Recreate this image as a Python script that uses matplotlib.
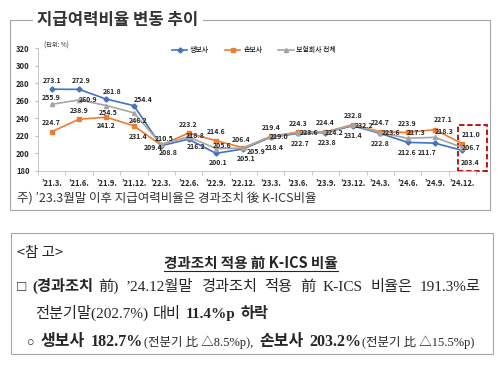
import matplotlib
matplotlib.use("Agg")
import matplotlib.pyplot as plt
import numpy as np
from matplotlib.patches import Rectangle
from matplotlib.lines import Line2D

W, H = 500, 372

QUARTERS = ["’21.3.", "’21.6.", "’21.9.", "’21.12.", "’22.3.", "’22.6.", "’22.9.", "’22.12.",
            "’23.3.", "’23.6.", "’23.9.", "’23.12.", "’24.3.", "’24.6.", "’24.9.", "’24.12."]
LIFE = [273.1, 272.9, 261.8, 254.4, 208.8, 216.2, 200.1, 205.1,
        218.4, 222.7, 223.8, 231.4, 222.8, 212.6, 211.7, 203.4]
NONLIFE = [224.7, 238.9, 241.2, 231.4, 209.4, 223.2, 214.6, 206.4,
           219.4, 224.3, 224.4, 232.8, 224.7, 223.9, 227.1, 211.0]
TOTAL = [255.9, 260.9, 254.5, 246.2, 210.5, 218.8, 205.6, 205.9,
         219.0, 223.6, 224.2, 232.2, 223.6, 217.3, 218.3, 206.7]
SERIES_NAMES = ["생보사", "손보사", "보험회사 전체"]
Y_TICKS = [180, 200, 220, 240, 260, 280, 300, 320]

# label offsets in pixels (dx, dy up)
LIFE_OFF = [(0, 9), (2, 9), (6, 8), (9, 6), (7, -7), (8, -7), (2, -9), (3, -10),
            (4, -10), (2, -10), (2, -10), (0, -10), (0, -10), (0, -10), (-8, -9), (8, -12)]
NONLIFE_OFF = [(0, 9), (0, 9), (0, -8), (4, -11), (-8, -2), (0, 9), (0, 9), (-2, 8),
               (0, 9), (0, 9), (0, 9), (0, 9), (0, 9), (0, 9), (8, 10), (9, 9)]
TOTAL_OFF = [(0, 7), (9, 0), (2, -7), (4, -8), (3, 6), (7, 1), (6, 3), (13, -3),
             (9, 0), (11, 0), (9, 0), (11, 0), (11, 0), (9, 6), (9, 6), (9, 0)]

SANS = ["Noto Sans CJK KR", "DejaVu Sans"]
SERIF = ["Liberation Serif", "Noto Sans CJK KR"]
INK = "#262626"
BLUE, ORANGE, GRAY = "#4472C4", "#ED7D31", "#A5A5A5"


def px(x, y):
    return x / W, 1 - y / H


def put_runs(fig, renderer, x, y, runs):
    for text, size, weight, gap in runs:
        t = fig.text(*px(x, y), text, fontsize=size, fontweight=weight,
                     family=SERIF, va="baseline", ha="left", color=INK)
        x += t.get_window_extent(renderer).width + gap
    return x


def main() -> None:
    plt.rcParams["font.family"] = SANS
    fig = plt.figure(figsize=(W / 100, H / 100), dpi=100)
    renderer = fig.canvas.get_renderer()

    # chart frame
    fig.add_artist(Rectangle(px(10, 210), 480 / W, 190 / H, transform=fig.transFigure,
                             fill=False, edgecolor="#A6A6A6", lw=0.8))
    fig.text(*px(118, 20), "지급여력비율 변동 추이", fontsize=12, fontweight="bold",
             ha="center", va="center", color="#333333",
             bbox=dict(facecolor="white", edgecolor="none", pad=3))

    ax = fig.add_axes([38 / W, 1 - 171 / H, 438 / W, 123 / H])
    x = np.arange(len(QUARTERS))
    series = [(LIFE, BLUE, "D", 2.6, LIFE_OFF),
              (NONLIFE, ORANGE, "s", 3.0, NONLIFE_OFF),
              (TOTAL, GRAY, "^", 3.0, TOTAL_OFF)]
    for (vals, color, marker, ms, offs), name in zip(series, SERIES_NAMES):
        ax.plot(x, vals, color=color, lw=1.2, marker=marker, ms=ms, label=name)
    for (vals, color, marker, ms, offs) in series:
        for xi, v, (dx, dy) in zip(x, vals, offs):
            ax.annotate(f"{v:.1f}", (xi, v), xytext=(dx, dy), textcoords="offset pixels",
                        ha="center", va="center", fontsize=5, fontweight="bold", color=INK)

    ax.set_xlim(-0.5, len(QUARTERS) - 0.5)
    ax.set_ylim(Y_TICKS[0], Y_TICKS[-1])
    ax.set_yticks(Y_TICKS)
    ax.set_xticks(x)
    ax.set_xticklabels(QUARTERS)
    ax.set_xticks(np.arange(len(QUARTERS) + 1) - 0.5, minor=True)
    ax.tick_params(axis="x", which="major", length=0, pad=6, labelsize=5.5, labelcolor=INK)
    ax.tick_params(axis="x", which="minor", length=3, color="#BFBFBF", width=0.6)
    ax.tick_params(axis="y", length=2, color="#BFBFBF", pad=4, labelsize=5.5, labelcolor=INK)
    for lab in ax.get_xticklabels() + ax.get_yticklabels():
        lab.set_fontweight("bold")
    for s in ["top", "right"]:
        ax.spines[s].set_visible(False)
    for s in ["left", "bottom"]:
        ax.spines[s].set_color("#BFBFBF")
        ax.spines[s].set_linewidth(0.6)

    ax.add_patch(Rectangle((14.85, 180.5), 1.05, 52, fill=False, edgecolor="#C00000",
                           lw=1.3, ls=(0, (3, 1.5)), clip_on=False))

    fig.text(*px(44, 46), "(단위: %)", fontsize=4.5, color=INK, va="center")
    handles = [Line2D([], [], color=c, marker=m, ms=ms, lw=1.2)
               for _, c, m, ms, _ in series]
    fig.legend(handles, SERIES_NAMES, loc="center", bbox_to_anchor=px(254, 50), ncol=3,
               frameon=False, fontsize=5, handlelength=2.2, columnspacing=2.3,
               handletextpad=0.4)

    fig.text(*px(17, 198), "주) ’23.3월말 이후 지급여력비율은 경과조치 後 K-ICS비율",
             fontsize=9, color="#333333", va="center")

    # reference box
    fig.add_artist(Rectangle(px(11, 354), 482 / W, 121 / H, transform=fig.transFigure,
                             fill=False, edgecolor="#A6A6A6", lw=0.8))
    fig.text(*px(17, 257), "<참 고>", fontsize=10.5, color=INK, va="baseline")
    t = fig.text(*px(251, 268), "경과조치 적용 前 K-ICS 비율", fontsize=10.5, fontweight="bold",
                 color=INK, ha="center", va="baseline")
    bb = t.get_window_extent(renderer)
    fig.add_artist(Line2D([bb.x0 / W, bb.x1 / W], [1 - 271 / H] * 2,
                          transform=fig.transFigure, color=INK, lw=0.8))

    put_runs(fig, renderer, 17, 291, [
        ("□", 11, "normal", 6), ("(경과조치", 11, "bold", 5), ("前)", 11, "normal", 7.5),
        ("’24.12월말", 11, "normal", 7.5), ("경과조치", 11, "normal", 7.5),
        ("적용", 11, "normal", 7.5), ("前", 11, "normal", 7.5), ("K-ICS", 11, "normal", 7.5),
        ("비율은", 11, "normal", 7.5), ("191.3%로", 11, "normal", 0)])
    put_runs(fig, renderer, 35, 318, [
        ("전분기말(202.7%)", 11, "normal", 5), ("대비", 11, "normal", 5),
        ("11.4%p", 11, "bold", 5), ("하락", 11, "bold", 0)])
    put_runs(fig, renderer, 27, 346, [
        ("○", 9, "normal", 6), ("생보사", 11.5, "bold", 6), ("182.7%", 11.5, "bold", 1),
        ("(전분기 比 △8.5%p),", 9, "normal", 6), ("손보사", 11.5, "bold", 6),
        ("203.2%", 11.5, "bold", 1), ("(전분기 比 △15.5%p)", 9, "normal", 0)])

    fig.savefig("out.png", dpi=100)


if __name__ == "__main__":
    main()
